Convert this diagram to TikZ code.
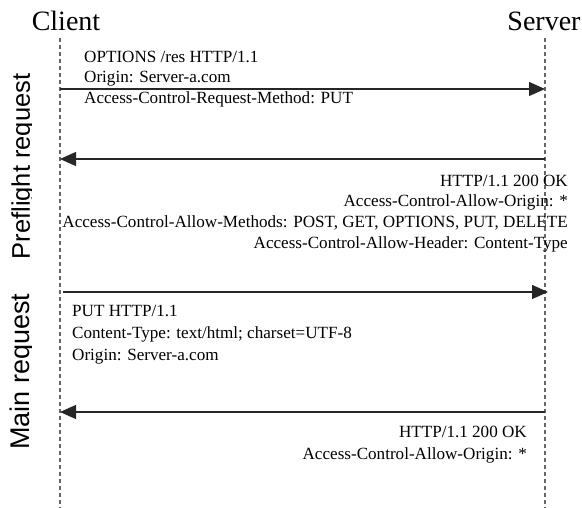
\documentclass[tikz,border=0pt]{standalone}
\usepackage{fontspec}
\setmainfont{Liberation Serif}
\newfontfamily\labelsans{Liberation Sans}
\usetikzlibrary{arrows.meta}
\begin{document}
\begin{tikzpicture}[x=1pt,y=-1pt,
  lifeline/.style={draw=black!60, line width=1.2pt, dash pattern=on 4pt off 3pt},
  msg/.style={draw=black!85, line width=1.3pt, -{Triangle[length=16pt,width=14pt]}},
  actor/.style={inner sep=0pt, font=\fontsize{28}{32}\selectfont},
  txt/.style={inner sep=0pt, font=\fontsize{17.1}{20}\selectfont},
  phase/.style={inner sep=0pt, rotate=90, anchor=base}]
\useasboundingbox (0,0) rectangle (582,508);
\fill[white] (0,0) rectangle (582,508);
% actors
\node[actor, anchor=base] (client) at (66,31) {Client};
\node[actor, anchor=base] (server) at (544,31) {Server};
\coordinate (ctop) at (60,38); \coordinate (cbot) at (60,508);
\coordinate (stop) at (545,38); \coordinate (sbot) at (545,508);
\draw[lifeline] (ctop) -- (cbot);
\draw[lifeline] (stop) -- (sbot);
% message endpoints
\coordinate (c1) at (60,89);  \coordinate (s1) at (545,89);
\coordinate (c2) at (60,159); \coordinate (s2) at (545,159);
\coordinate (c3) at (63,292); \coordinate (s3) at (548,292);
\coordinate (c4) at (60,412); \coordinate (s4) at (545,412);
\draw[msg] (c1) -- (s1);
\draw[msg] (s2) -- (c2);
\draw[msg] (c3) -- (s3);
\draw[msg] (s4) -- (c4);
% message texts
\node[txt, anchor=base west] (m1a) at (84,63) {OPTIONS /res HTTP/1.1};
\node[txt, anchor=base west] (m1b) at (84,83) {Origin: Server-a.com};
\node[txt, anchor=base west] (m1c) at (84,104) {Access-Control-Request-Method: PUT};
\node[txt, anchor=base east] (m2a) at (568,187) {HTTP/1.1 200 OK};
\node[txt, anchor=base east] (m2b) at (568,207) {Access-Control-Allow-Origin: *};
\node[txt, anchor=base east] (m2c) at (568,228) {Access-Control-Allow-Methods: POST, GET, OPTIONS, PUT, DELETE};
\node[txt, anchor=base east] (m2d) at (568,249) {Access-Control-Allow-Header: Content-Type};
\node[txt, anchor=base west] (m3a) at (72,317) {PUT HTTP/1.1};
\node[txt, anchor=base west] (m3b) at (72,339) {Content-Type: text/html; charset=UTF-8};
\node[txt, anchor=base west] (m3c) at (72,361) {Origin: Server-a.com};
\node[txt, anchor=base east] (m4a) at (527,437) {HTTP/1.1 200 OK};
\node[txt, anchor=base east] (m4b) at (527,459) {Access-Control-Allow-Origin: *};
% phase labels (descenders clipped as in the reference)
\begin{scope}
\clip (0,0) rectangle (31,508);
\node[phase, font=\labelsans\fontsize{25.5}{28}\selectfont] (pre) at (30,166.5) {Preflight request};
\node[phase, font=\labelsans\fontsize{27}{30}\selectfont] (main) at (30,371.5) {Main request};
\end{scope}
\end{tikzpicture}
\end{document}
